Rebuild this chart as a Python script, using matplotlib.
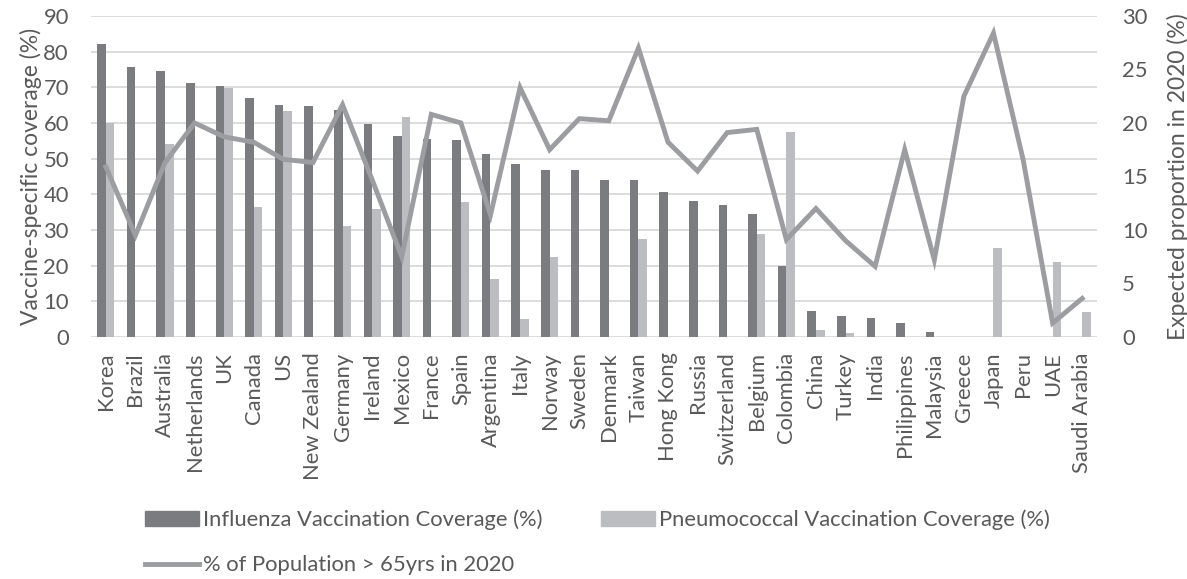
import numpy as np
import matplotlib.pyplot as plt
from matplotlib.patches import Patch
from matplotlib.lines import Line2D

plt.rcParams['font.family'] = ['Lato', 'DejaVu Sans']

countries = ['Korea', 'Brazil', 'Australia', 'Netherlands', 'UK', 'Canada', 'US',
             'New Zealand', 'Germany', 'Ireland', 'Mexico', 'France', 'Spain',
             'Argentina', 'Italy', 'Norway', 'Sweden', 'Denmark', 'Taiwan',
             'Hong Kong', 'Russia', 'Switzerland', 'Belgium', 'Colombia', 'China',
             'Turkey', 'India', 'Philippines', 'Malaysia', 'Greece', 'Japan', 'Peru',
             'UAE', 'Saudi Arabia']

influenza = [82.2, 75.6, 74.5, 71.1, 70.4, 66.9, 65.1, 64.8, 63.7, 59.7, 56.4, 55.5,
             55.3, 51.4, 48.6, 46.9, 46.8, 43.9, 43.9, 40.6, 38.1, 36.9, 34.4, 19.9,
             7.3, 5.9, 5.2, 3.8, 1.3, 0, 0, 0, 0, 0]

pneumococcal = [60.0, 0, 54.2, 0, 69.8, 36.4, 63.4, 0, 31.2, 35.8, 61.8, 0,
                37.9, 16.2, 5.0, 22.5, 0, 0, 27.5, 0, 0, 0, 28.9, 57.5,
                2.0, 1.0, 0, 0, 0, 0, 24.9, 0, 20.9, 6.9]

pop_over_65 = [15.9, 9.5, 16.3, 20.0, 18.7, 18.2, 16.6, 16.3, 21.7, 14.7, 7.5, 20.8,
               20.0, 11.4, 23.3, 17.5, 20.4, 20.2, 27.0, 18.2, 15.5, 19.1, 19.4, 9.1,
               12.0, 9.0, 6.6, 17.5, 7.2, 22.5, 28.4, 16.6, 1.3, 3.6]

dark = '#7b7c80'
light = '#bcbdc1'
line_col = '#9c9da1'
text_col = '#595959'
fs = 15.8

fig = plt.figure(figsize=(11.87, 5.79), dpi=100)
ax = fig.add_axes([0.0767, 0.418, 0.8475, 0.5545])
ax2 = ax.twinx()

x = np.arange(len(countries))
w = 0.29
ax.bar(x - w / 2, influenza, w, color=dark, zorder=2)
ax.bar(x + w / 2, pneumococcal, w, color=light, zorder=2)
ax2.plot(x, pop_over_65, color=line_col, lw=3.5, solid_joinstyle='miter')

ax.set_xlim(-0.5, len(countries) - 0.5)
ax.set_ylim(0, 90)
ax.set_yticks(np.arange(0, 91, 10))
ax2.set_ylim(0, 30)
ax2.set_yticks(np.arange(0, 31, 5))

ax.yaxis.grid(True, color='#d9d9d9', lw=1.3, zorder=0)
ax.set_axisbelow(True)
for a in (ax, ax2):
    for s in a.spines.values():
        s.set_visible(False)
    a.tick_params(length=0, colors=text_col, labelsize=fs)

ax.set_xticks(x)
ax.set_xticklabels(countries, rotation=90)
ax.tick_params(axis='x', pad=11)
ax.tick_params(axis='y', pad=16)
ax2.tick_params(axis='y', pad=18)

ax.set_ylabel('Vaccine-specific coverage (%)', fontsize=16.5, color=text_col, labelpad=1)
ax2.set_ylabel('Expected proportion in 2020 (%)', fontsize=16.5, color=text_col, labelpad=14)

handles = [Patch(color=dark), Line2D([], [], color=line_col, lw=3.5), Patch(color=light)]
labels = ['Influenza Vaccination Coverage (%)', '% of Population > 65yrs in 2020',
          'Pneumococcal Vaccination Coverage (%)']
leg = fig.legend(handles, labels, ncol=2, loc='upper left', bbox_to_anchor=(0.1146, 0.135),
                 borderaxespad=0, frameon=False, fontsize=fs, handlelength=2.45,
                 handletextpad=0.18, columnspacing=2.7, labelspacing=1.15)
for t in leg.get_texts():
    t.set_color(text_col)

fig.savefig('out.png', dpi=100)
